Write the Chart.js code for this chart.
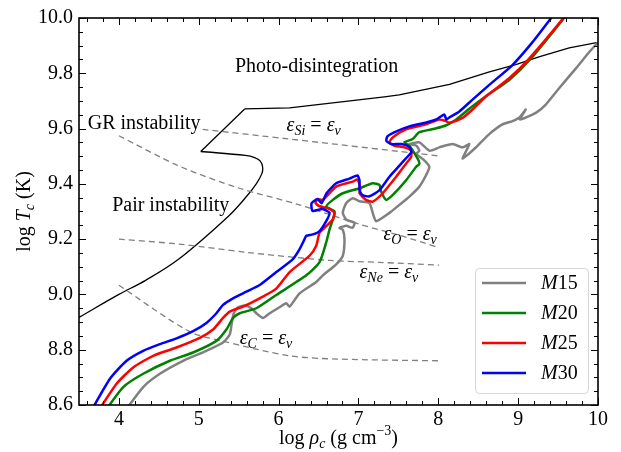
<!DOCTYPE html>
<html>
<head>
<meta charset="utf-8">
<script src="https://cdn.jsdelivr.net/npm/chart.js@4.4.0/dist/chart.umd.min.js"></script>
<style>
  html, body { margin: 0; background: #fff; }
  canvas { display: block; }
</style>
</head>
<body>
<canvas id="evoChart" width="621" height="452"></canvas>
<script>
// central density / temperature tracks, [log rho_c, log T_c]
const trackM15 = [
  [4.08, 8.58], [4.304, 8.665], [4.513, 8.713], [4.804, 8.760], [5.096, 8.796],
  [5.304, 8.826], [5.388, 8.855], [5.413, 8.896], [5.438, 8.931], [5.488, 8.953],
  [5.575, 8.960], [5.659, 8.950], [5.721, 8.932], [5.804, 8.915], [5.888, 8.932],
  [5.991, 8.950], [6.096, 8.968], [6.138, 8.956], [6.263, 9.004], [6.471, 9.045],
  [6.554, 9.069], [6.721, 9.109], [6.804, 9.140], [6.825, 9.198], [6.804, 9.234],
  [6.763, 9.241], [6.85, 9.248], [6.925, 9.241], [6.95, 9.259], [6.85, 9.270],
  [6.804, 9.295], [6.846, 9.330], [6.929, 9.348], [7.013, 9.337], [7.138, 9.330],
  [7.179, 9.295], [7.221, 9.265], [7.388, 9.295], [7.513, 9.324], [7.638, 9.354],
  [7.763, 9.390], [7.846, 9.431], [7.888, 9.461], [7.825, 9.485], [7.725, 9.508],
  [7.763, 9.520], [7.725, 9.538], [7.638, 9.544], [7.763, 9.550], [7.888, 9.520],
  [8.013, 9.532], [8.179, 9.544], [8.304, 9.532], [8.388, 9.544], [8.304, 9.491],
  [8.471, 9.532], [8.638, 9.580], [8.804, 9.615], [8.929, 9.627], [9.013, 9.639],
  [9.096, 9.669], [9.025, 9.633], [9.221, 9.657], [9.346, 9.687], [9.513, 9.746],
  [9.721, 9.817], [9.888, 9.876], [10.0, 9.912]
];
const trackM20 = [
  [3.83, 8.58], [4.054, 8.665], [4.304, 8.713], [4.638, 8.760], [4.929, 8.790],
  [5.221, 8.832], [5.346, 8.873], [5.429, 8.915], [5.513, 8.932], [5.721, 8.950],
  [5.971, 8.998], [6.346, 9.069], [6.513, 9.117], [6.596, 9.188], [6.638, 9.235],
  [6.679, 9.271], [6.7, 9.301], [6.596, 9.318], [6.679, 9.342], [6.804, 9.366],
  [7.013, 9.384], [7.179, 9.402], [7.263, 9.396], [7.284, 9.372], [7.346, 9.342],
  [7.45, 9.366], [7.596, 9.413], [7.721, 9.461], [7.763, 9.473], [7.741, 9.491],
  [7.638, 9.538], [7.575, 9.550], [7.679, 9.562], [7.763, 9.587], [7.975, 9.601],
  [8.1, 9.612], [8.225, 9.633], [8.388, 9.672], [8.6, 9.718], [8.888, 9.776],
  [9.15, 9.850], [9.563, 9.996], [9.675, 10.04]
];
const trackM25 = [
  [3.745, 8.58], [3.971, 8.677], [4.179, 8.736], [4.429, 8.778], [4.721, 8.808],
  [5.013, 8.843], [5.179, 8.873], [5.304, 8.915], [5.388, 8.938], [5.554, 8.956],
  [5.763, 8.986], [5.971, 9.021], [6.138, 9.081], [6.388, 9.140], [6.471, 9.176],
  [6.513, 9.223], [6.596, 9.247], [6.679, 9.271], [6.7, 9.295], [6.616, 9.312],
  [6.513, 9.319], [6.463, 9.330], [6.488, 9.345], [6.554, 9.342], [6.721, 9.390],
  [6.929, 9.408], [6.988, 9.416], [7.025, 9.384], [7.013, 9.366], [7.096, 9.342],
  [7.179, 9.336], [7.304, 9.366], [7.471, 9.425], [7.596, 9.473], [7.659, 9.497],
  [7.659, 9.520], [7.575, 9.532], [7.45, 9.538], [7.388, 9.550], [7.429, 9.568],
  [7.596, 9.597], [7.846, 9.615], [8.013, 9.633], [8.096, 9.627], [8.138, 9.621],
  [8.304, 9.639], [8.429, 9.669], [8.596, 9.716], [8.888, 9.782], [9.138, 9.853],
  [9.554, 9.995], [9.663, 10.04]
];
const trackM30 = [
  [3.655, 8.58], [3.888, 8.695], [4.096, 8.760], [4.304, 8.796], [4.513, 8.820],
  [4.721, 8.841], [4.929, 8.867], [5.096, 8.897], [5.221, 8.932], [5.304, 8.962],
  [5.429, 8.986], [5.596, 9.010], [5.763, 9.034], [5.971, 9.081], [6.179, 9.128],
  [6.263, 9.164], [6.325, 9.200], [6.346, 9.212], [6.429, 9.217], [6.513, 9.229],
  [6.596, 9.265], [6.638, 9.295], [6.55, 9.309], [6.425, 9.302], [6.413, 9.330],
  [6.488, 9.345], [6.538, 9.330], [6.6, 9.366], [6.721, 9.402], [6.888, 9.419],
  [6.988, 9.430], [7.013, 9.412], [7.013, 9.377], [7.05, 9.359], [7.138, 9.355],
  [7.263, 9.377], [7.388, 9.426], [7.513, 9.466], [7.613, 9.498], [7.663, 9.515],
  [7.638, 9.533], [7.538, 9.544], [7.413, 9.544], [7.35, 9.555], [7.363, 9.572],
  [7.475, 9.590], [7.638, 9.608], [7.85, 9.622], [7.975, 9.633], [8.075, 9.651],
  [8.1, 9.633], [8.138, 9.640], [8.263, 9.662], [8.425, 9.704], [8.638, 9.758],
  [8.925, 9.829], [9.175, 9.911], [9.413, 10.0], [9.513, 10.04]
];

// instability boundary (pair / GR / photo-disintegration); index 12 is the sharp corner
const boundary = [
  [3.5, 8.917], [4.0, 9.0], [4.334, 9.051], [4.75, 9.128], [5.375, 9.284],
  [5.60, 9.355], [5.72, 9.40], [5.79, 9.437], [5.80, 9.46], [5.771, 9.482],
  [5.70, 9.495], [5.584, 9.503], [5.025, 9.517], [5.575, 9.671], [6.138, 9.675],
  [7.325, 9.715], [7.51, 9.722], [8.14, 9.760], [8.64, 9.805], [8.97, 9.831],
  [9.26, 9.859], [9.64, 9.892], [10.0, 9.912]
];
const boundaryCorners = [12, 13];

// nuclear burning = neutrino losses
const burnSi = [[5.05, 9.597], [6.14, 9.562], [8.01, 9.501]];
const burnO  = [[4.0, 9.574], [4.75, 9.465], [5.5, 9.385], [6.25, 9.325], [7.0, 9.255], [7.5, 9.215], [8.0, 9.17]];
const burnNe = [[4.0, 9.2], [4.76, 9.182], [5.6, 9.152], [6.64, 9.123], [7.26, 9.116], [8.01, 9.106]];
const burnC  = [[4.0, 9.033], [4.875, 8.867], [5.3, 8.831], [6.14, 8.778], [6.76, 8.766], [8.01, 8.760]];

const xTicks = [4, 5, 6, 7, 8, 9, 10];
const yTicks = [8.6, 8.8, 9.0, 9.2, 9.4, 9.6, 9.8, 10.0];

const massLabels = ['15', '20', '25', '30'];
const massColors = ['#808080', '#008000', '#ff0000', '#0000ff'];

const regionText = [
  { text: 'Photo-disintegration', x: 6.475, y: 9.822, align: 'center' },
  { text: 'GR instability', x: 3.61, y: 9.617, align: 'left' },
  { text: 'Pair instability', x: 3.915, y: 9.322, align: 'left' }
];
const burnText = [
  { sub: 'Si', x: 6.1, y: 9.612 },
  { sub: 'O', x: 7.3125, y: 9.216 },
  { sub: 'Ne', x: 7.0125, y: 9.08 },
  { sub: 'C', x: 5.5125, y: 8.838 }
];

const SERIF = '"Liberation Serif", "DejaVu Serif", serif';
const FS = 20;

function makeLine(points, color, width, dash, order, tension) {
    return {
        data: points.map(p => ({ x: p[0], y: p[1] })),
        showLine: true,
        borderColor: color,
        borderWidth: width,
        borderDash: dash,
        borderJoinStyle: 'round',
        pointRadius: 0,
        tension: tension,
        fill: false,
        clip: 0,
        order: order
    };
}

// draws a run of text pieces, some italic, some sub/superscript
function drawRuns(ctx, runs, x, y, size, align) {
    const parts = runs.map(r => {
        const s = (r.sub || r.sup) ? size * 0.7 : size;
        const font = (r.it ? 'italic ' : '') + s + 'px ' + SERIF;
        ctx.font = font;
        return {
            t: r.t, font: font,
            w: ctx.measureText(r.t).width,
            dy: r.sub ? size * 0.28 : (r.sup ? -size * 0.36 : 0)
        };
    });
    const total = parts.reduce((a, p) => a + p.w, 0);
    let cx = align === 'center' ? x - total / 2 : x;
    ctx.textAlign = 'left';
    ctx.textBaseline = 'middle';
    parts.forEach(p => {
        ctx.font = p.font;
        ctx.fillText(p.t, cx, y + p.dy);
        cx += p.w;
    });
}

const decorations = {
    id: 'decorations',
    beforeDraw(chart) {
        const ctx = chart.ctx;
        ctx.save();
        ctx.fillStyle = '#fff';
        ctx.fillRect(0, 0, chart.width, chart.height);
        ctx.restore();
    },
    afterDraw(chart) {
        const { ctx, chartArea: a, scales: { x, y } } = chart;
        ctx.save();
        ctx.fillStyle = '#000';

        // region names
        regionText.forEach(r => {
            ctx.font = FS + 'px ' + SERIF;
            ctx.textAlign = r.align;
            ctx.textBaseline = 'middle';
            ctx.fillText(r.text, x.getPixelForValue(r.x), y.getPixelForValue(r.y));
        });

        // epsilon_X = epsilon_nu labels
        burnText.forEach(b => {
            drawRuns(ctx, [
                { t: 'ε', it: true }, { t: b.sub, it: true, sub: true },
                { t: ' = ' }, { t: 'ε', it: true }, { t: 'ν', it: true, sub: true }
            ], x.getPixelForValue(b.x), y.getPixelForValue(b.y), FS, 'left');
        });

        // frame
        ctx.strokeStyle = '#000';
        ctx.lineWidth = 1.6;
        ctx.strokeRect(a.left, a.top, a.right - a.left, a.bottom - a.top);

        // inward ticks on all four sides, major and minor
        ctx.lineWidth = 1;
        ctx.beginPath();
        for (let i = 18; i <= 50; i++) {
            const px = Math.round(x.getPixelForValue(i / 5)) + 0.5;
            const len = i % 5 === 0 ? 7 : 4;
            ctx.moveTo(px, a.bottom); ctx.lineTo(px, a.bottom - len);
            ctx.moveTo(px, a.top); ctx.lineTo(px, a.top + len);
        }
        for (let i = 172; i <= 200; i++) {
            const py = Math.round(y.getPixelForValue(i / 20)) + 0.5;
            const len = i % 4 === 0 ? 7 : 4;
            ctx.moveTo(a.left, py); ctx.lineTo(a.left + len, py);
            ctx.moveTo(a.right, py); ctx.lineTo(a.right - len, py);
        }
        ctx.stroke();

        // axis titles
        drawRuns(ctx, [
            { t: 'log ' }, { t: 'ρ', it: true }, { t: 'c', it: true, sub: true },
            { t: ' (g cm' }, { t: '−3', sup: true }, { t: ')' }
        ], (a.left + a.right) / 2, 439, FS, 'center');
        ctx.save();
        ctx.translate(25, (a.top + a.bottom) / 2);
        ctx.rotate(-Math.PI / 2);
        drawRuns(ctx, [
            { t: 'log ' }, { t: 'T', it: true }, { t: 'c', it: true, sub: true }, { t: ' (K)' }
        ], 0, 0, FS, 'center');
        ctx.restore();

        // legend
        const bx = a.right - 123, by = a.bottom - 137, bw = 113, bh = 125;
        ctx.beginPath();
        ctx.roundRect(bx + 0.5, by + 0.5, bw, bh, 4);
        ctx.fillStyle = 'rgba(255,255,255,0.8)';
        ctx.fill();
        ctx.strokeStyle = '#d6d6d6';
        ctx.lineWidth = 1;
        ctx.stroke();
        massLabels.forEach((m, i) => {
            const ly = by + 15 + i * 30;
            ctx.strokeStyle = massColors[i];
            ctx.lineWidth = 2.5;
            ctx.beginPath();
            ctx.moveTo(bx + 7, ly);
            ctx.lineTo(bx + 51, ly);
            ctx.stroke();
            ctx.fillStyle = '#000';
            drawRuns(ctx, [{ t: 'M', it: true }, { t: m }], bx + 66, ly + 1, FS, 'left');
        });
        ctx.restore();
    }
};

const tracks = [trackM15, trackM20, trackM25, trackM30];
const datasets = [
    // boundary split at its corners so the curved parts can be smoothed
    makeLine(boundary.slice(0, boundaryCorners[0] + 1), '#000', 1.3, [], 20, 0.35),
    makeLine(boundary.slice(boundaryCorners[0], boundaryCorners[1] + 1), '#000', 1.3, [], 20, 0),
    makeLine(boundary.slice(boundaryCorners[1]), '#000', 1.3, [], 20, 0),
    makeLine(burnSi, '#808080', 1.3, [6, 4], 10, 0.3),
    makeLine(burnO, '#808080', 1.3, [6, 4], 10, 0.3),
    makeLine(burnNe, '#808080', 1.3, [6, 4], 10, 0.3),
    makeLine(burnC, '#808080', 1.3, [6, 4], 10, 0.3)
];
tracks.forEach((t, i) => datasets.push(makeLine(t, massColors[i], 2.5, [], 4 - i, 0.2)));

new Chart(document.getElementById('evoChart'), {
    type: 'scatter',
    data: { datasets: datasets },
    options: {
        responsive: false,
        animation: false,
        layout: { padding: { top: 12, right: 23, left: 0, bottom: 0 } },
        plugins: { legend: { display: false }, tooltip: { enabled: false } },
        scales: {
            x: {
                type: 'linear', min: 3.5, max: 10,
                afterBuildTicks: s => { s.ticks = xTicks.map(v => ({ value: v })); },
                afterFit: s => { s.height = 47; },
                grid: { display: false, drawTicks: false },
                border: { display: false },
                ticks: { color: '#000', font: { family: SERIF, size: FS }, padding: 3, maxRotation: 0, autoSkip: false }
            },
            y: {
                type: 'linear', min: 8.6, max: 10,
                afterBuildTicks: s => { s.ticks = yTicks.map(v => ({ value: v })); },
                afterFit: s => { s.width = 79; },
                grid: { display: false, drawTicks: false },
                border: { display: false },
                ticks: { color: '#000', font: { family: SERIF, size: FS }, padding: 6, autoSkip: false,
                         callback: v => v.toFixed(1) }
            }
        }
    },
    plugins: [decorations]
});
</script>
</body>
</html>
